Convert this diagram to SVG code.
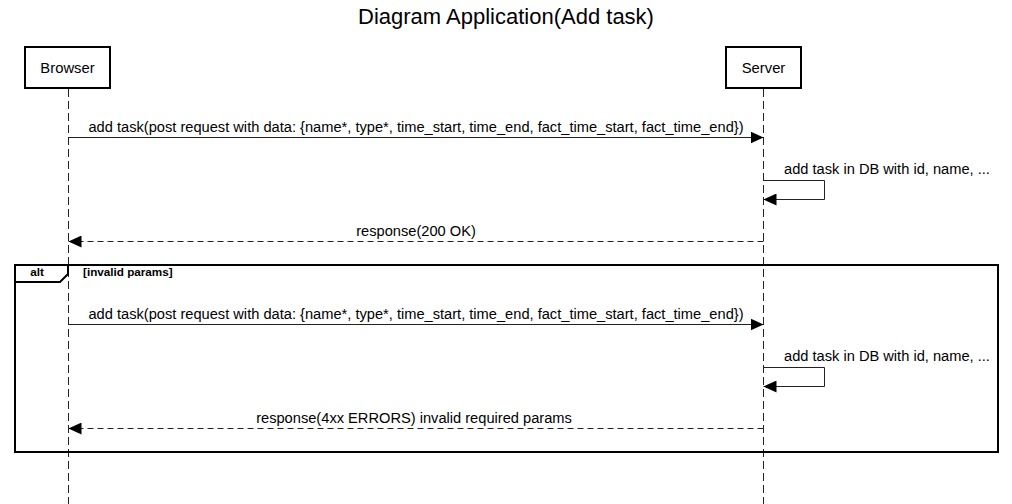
<svg xmlns="http://www.w3.org/2000/svg" width="1012" height="504" viewBox="0 0 1012 504">
<defs>
<marker id="arr" viewBox="0 0 13 12" refX="13" refY="6" markerWidth="13" markerHeight="12" markerUnits="userSpaceOnUse" orient="auto">
<path d="M0,0 L13,6 L0,12 Z" fill="#000"/>
</marker>
</defs>
<style>
text{font-family:"Liberation Sans",Arial,sans-serif;fill:#000}
.title{font-size:22px;text-anchor:middle}
.actor rect{fill:#fff;stroke:#000;stroke-width:2}
.actor text{font-size:14.8px;text-anchor:middle}
.life{stroke:#222;stroke-width:1;stroke-dasharray:8,4;fill:none}
.msg{stroke:#222;stroke-width:1;fill:none;marker-end:url(#arr)}
.ret{stroke:#222;stroke-width:1;fill:none;stroke-dasharray:6,4;marker-end:url(#arr)}
.lbl{font-size:14.65px;text-anchor:middle}
.lbls{font-size:14.65px}
.frame{fill:none;stroke:#000;stroke-width:2}
.frl{font-size:11.7px;font-weight:bold}
</style>
<rect width="1012" height="504" fill="#fff"/>
<text class="title" x="506" y="24">Diagram Application(Add task)</text>
<g id="lifelines">
<line class="life" x1="68.5" y1="89" x2="68.5" y2="504"/>
<line class="life" x1="763.5" y1="89" x2="763.5" y2="504"/>
</g>
<g id="browser" class="actor">
<rect x="25" y="47" width="85" height="41"/>
<text x="67.5" y="73">Browser</text>
</g>
<g id="server" class="actor">
<rect x="726" y="47" width="75" height="41"/>
<text x="763.5" y="73">Server</text>
</g>
<g id="alt-frame">
<rect class="frame" x="15" y="265" width="983" height="187"/>
<path class="frame" d="M15,282 L60,282 L68,274 L68,265"/>
<text class="frl" x="37" y="276" text-anchor="middle">alt</text>
<text class="frl" x="83" y="276">[invalid params]</text>
</g>
<g id="connectors">
<line class="msg" x1="68.5" y1="137.5" x2="763.5" y2="137.5"/>
<text class="lbl" x="416" y="132">add task(post request with data: {name*, type*, time_start, time_end, fact_time_start, fact_time_end})</text>
<path class="msg" d="M763.5,180.5 L824.5,180.5 L824.5,199.5 L763.5,199.5"/>
<text class="lbls" x="784" y="174">add task in DB with id, name, ...</text>
<line class="ret" x1="763.5" y1="241.5" x2="68.5" y2="241.5"/>
<text class="lbl" x="416" y="236">response(200 OK)</text>
<line class="msg" x1="68.5" y1="324.5" x2="763.5" y2="324.5"/>
<text class="lbl" x="416" y="319">add task(post request with data: {name*, type*, time_start, time_end, fact_time_start, fact_time_end})</text>
<path class="msg" d="M763.5,367.5 L824.5,367.5 L824.5,386.5 L763.5,386.5"/>
<text class="lbls" x="784" y="361">add task in DB with id, name, ...</text>
<line class="ret" x1="763.5" y1="428.5" x2="68.5" y2="428.5"/>
<text class="lbl" x="414" y="423">response(4xx ERRORS) invalid required params</text>
</g>
</svg>
